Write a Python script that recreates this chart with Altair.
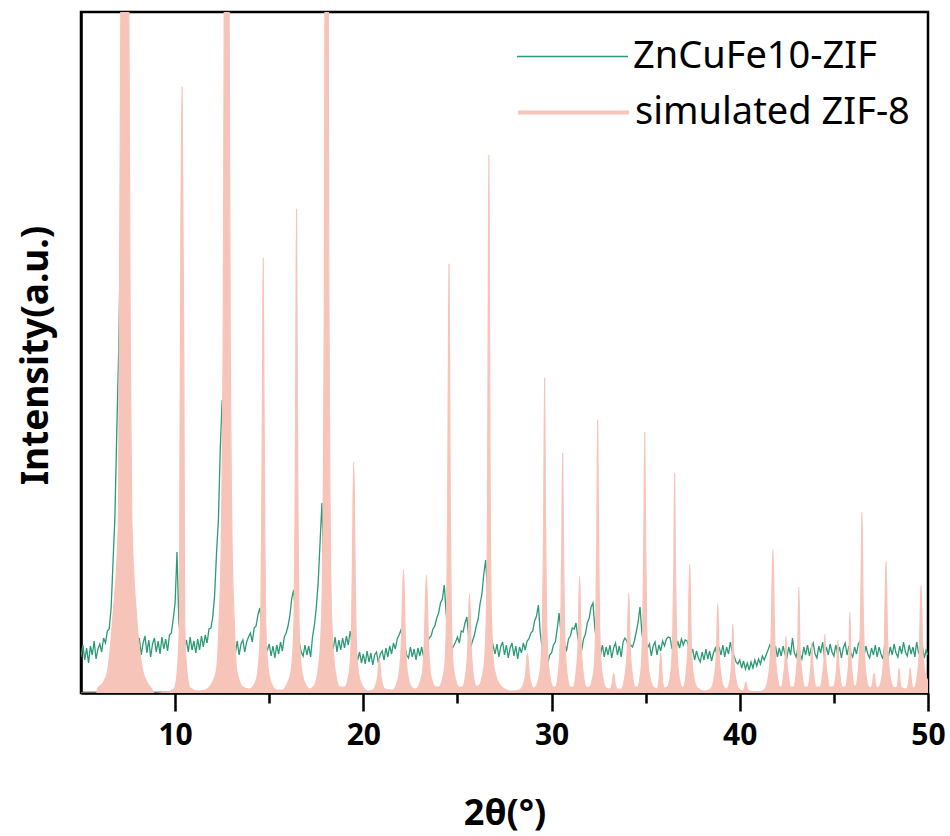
import altair as alt
import pandas as pd

series_names = ["ZnCuFe10-ZIF", "simulated ZIF-8"]
series_colors = ["#2A9B76", "#F7C4BA"]
x_tick_values = [10, 15, 20, 25, 30, 35, 40, 45, 50]

# experimental pattern, 2-theta from 5.0 to 50.0 in 0.1 degree steps (one row per degree)
exp_start = 5.0
exp_step = 0.1
exp_intensity = [
    36, 48, 33, 45, 30, 47, 38, 52, 34, 44,        # 5
    49, 41, 55, 50, 62, 64, 85, 130, 175, 260,     # 6
    340, 456, 320, 180, 110, 80, 65, 56, 52, 48,   # 7
    44, 55, 38, 50, 57, 40, 53, 36, 49, 55,        # 8
    41, 52, 39, 56, 44, 54, 42, 58, 60, 74,        # 9
    90, 141, 70, 56, 52, 44, 53, 41, 56, 43,       # 10
    52, 40, 54, 43, 57, 46, 58, 50, 64, 65,        # 11
    76, 98, 140, 173, 245, 293, 200, 120, 80, 60,  # 12
    54, 44, 40, 52, 38, 49, 53, 41, 51, 56,        # 13
    60, 51, 65, 67, 78, 85, 70, 55, 48, 43,        # 14
    49, 37, 47, 35, 48, 39, 51, 42, 56, 60,        # 15
    67, 78, 95, 103, 80, 60, 50, 41, 37, 48,       # 16
    38, 47, 36, 56, 68, 85, 110, 150, 190, 120,    # 17
    90, 70, 58, 52, 44, 56, 41, 53, 43, 55,        # 18
    45, 57, 48, 62, 50, 45, 40, 33, 41, 30,        # 19
    39, 29, 42, 31, 40, 28, 38, 41, 30, 39,        # 20
    42, 33, 45, 36, 47, 39, 50, 44, 54, 58,        # 21
    63, 55, 48, 38, 35, 46, 36, 44, 33, 45,        # 22
    37, 46, 36, 47, 50, 55, 57, 64, 67, 75,        # 23
    80, 90, 94, 108, 80, 60, 50, 44, 47, 51,       # 24
    56, 50, 62, 61, 70, 76, 55, 46, 52, 58,        # 25
    67, 74, 89, 99, 119, 133, 100, 70, 55, 47,     # 26
    39, 49, 36, 46, 51, 38, 48, 35, 45, 50,        # 27
    37, 47, 34, 46, 40, 50, 43, 52, 54, 60,        # 28
    62, 72, 77, 88, 60, 45, 40, 38, 30, 38,        # 29
    40, 48, 51, 64, 80, 60, 50, 48, 43, 54,        # 30
    57, 65, 64, 70, 55, 45, 43, 54, 59, 70,        # 31
    75, 86, 90, 65, 50, 46, 38, 48, 36, 46,        # 32
    38, 48, 35, 45, 50, 38, 47, 36, 51, 55,        # 33
    52, 45, 48, 46, 52, 61, 71, 86, 60, 48,        # 34
    43, 45, 49, 37, 47, 51, 38, 48, 42, 52,        # 35
    47, 54, 56, 55, 44, 50, 42, 52, 45, 54,        # 36
    48, 53, 52, 45, 38, 44, 33, 42, 35, 31,        # 37
    41, 33, 44, 34, 42, 32, 40, 45, 37, 46,        # 38
    38, 48, 36, 46, 39, 51, 41, 37, 31, 29,        # 39
    33, 25, 32, 24, 30, 23, 31, 25, 33, 27,        # 40
    34, 29, 37, 33, 38, 43, 48, 44, 38, 47,        # 41
    36, 45, 37, 47, 39, 35, 46, 38, 55, 40,        # 42
    36, 47, 39, 34, 46, 38, 48, 37, 45, 50,        # 43
    39, 35, 47, 40, 51, 36, 46, 38, 49, 41,        # 44
    37, 48, 39, 46, 35, 45, 50, 38, 47, 40,        # 45
    36, 46, 39, 49, 52, 41, 37, 47, 39, 35,        # 46
    45, 38, 48, 36, 46, 39, 34, 47, 40, 37,        # 47
    46, 38, 49, 40, 36, 47, 39, 51, 41, 37,        # 48
    48, 39, 46, 36, 51, 40, 38, 47, 35, 43,        # 49
    38,                                            # 50
]

# simulated ZIF-8 pattern: (2-theta, intensity) points read along each reflection
sim_points = [
    (5.0, 0), (5.85, 0), (5.87, 4), (6.2, 11), (6.42, 23), (6.68, 73), (6.99, 173), (7.03, 343),
    (7.12, 700), (7.33, 2000), (7.54, 700), (7.62, 343), (7.7, 173), (7.97, 73), (8.27, 23),
    (8.5, 11), (8.75, 4), (8.9, 0),
    (9.6, 1), (9.95, 4), (10.12, 23), (10.23, 73), (10.25, 173), (10.28, 343), (10.37, 606),
    (10.46, 343), (10.49, 173), (10.51, 73), (10.62, 23), (10.8, 5), (11.2, 2),
    (11.6, 3), (11.9, 8), (12.2, 23), (12.34, 73), (12.47, 173), (12.55, 343), (12.61, 681), (12.74, 2000),
    (12.87, 681), (12.93, 343), (13.01, 173), (13.14, 73), (13.27, 23), (13.6, 6),
    (13.95, 4), (14.25, 10), (14.4, 23), (14.55, 73), (14.6, 173), (14.64, 300), (14.68, 435), (14.72, 300),
    (14.76, 173), (14.81, 73), (14.95, 23), (15.15, 8), (15.4, 3),
    (15.7, 3), (15.95, 9), (16.17, 23), (16.32, 73), (16.37, 173), (16.41, 320), (16.45, 484), (16.49, 320),
    (16.53, 173), (16.58, 73), (16.72, 23), (16.95, 8), (17.15, 4),
    (17.35, 6), (17.6, 23), (17.78, 73), (17.86, 173), (17.93, 400), (17.96, 681), (18.05, 2000),
    (18.14, 681), (18.17, 400), (18.24, 173), (18.32, 73), (18.5, 23), (18.75, 6),
    (19.0, 6), (19.27, 23), (19.38, 73), (19.43, 150), (19.49, 231), (19.55, 150), (19.6, 73),
    (19.72, 23), (19.95, 7), (20.25, 2),
    (20.5, 3), (20.75, 15), (20.85, 35), (20.95, 15), (21.15, 4),
    (21.55, 3), (21.85, 14), (22.02, 50), (22.13, 124), (22.24, 50), (22.36, 18), (22.6, 5),
    (22.8, 4), (23.12, 18), (23.24, 50), (23.35, 118), (23.46, 50), (23.58, 18), (23.85, 6),
    (24.0, 6), (24.3, 23), (24.42, 73), (24.48, 180), (24.51, 300), (24.55, 429), (24.59, 300),
    (24.62, 180), (24.68, 73), (24.8, 23), (25.1, 6),
    (25.25, 6), (25.45, 20), (25.55, 45), (25.64, 99), (25.73, 45), (25.83, 20), (26.0, 7),
    (26.1, 7), (26.4, 25), (26.53, 73), (26.6, 200), (26.63, 350), (26.67, 538), (26.71, 350),
    (26.74, 200), (26.81, 73), (26.95, 25), (27.3, 7), (27.8, 2),
    (28.3, 3), (28.6, 15), (28.72, 40), (28.84, 15), (29.05, 5),
    (29.15, 6), (29.4, 23), (29.52, 73), (29.58, 170), (29.63, 315), (29.68, 170), (29.74, 73),
    (29.86, 23), (30.1, 6),
    (30.2, 6), (30.38, 23), (30.49, 70), (30.54, 140), (30.59, 240), (30.64, 140), (30.69, 70),
    (30.8, 23), (31.0, 6),
    (31.15, 6), (31.3, 20), (31.41, 50), (31.49, 117), (31.57, 50), (31.68, 20), (31.85, 6),
    (32.0, 6), (32.25, 23), (32.35, 73), (32.4, 150), (32.45, 273), (32.5, 150), (32.55, 73),
    (32.66, 23), (32.9, 5),
    (33.1, 4), (33.22, 9), (33.3, 20), (33.38, 9), (33.5, 4),
    (33.7, 4), (33.92, 20), (34.02, 45), (34.1, 100), (34.18, 45), (34.28, 20), (34.45, 6),
    (34.55, 6), (34.75, 23), (34.85, 73), (34.9, 150), (34.95, 261), (35.0, 150), (35.05, 73),
    (35.16, 23), (35.4, 6),
    (35.6, 4), (35.72, 15), (35.8, 40), (35.88, 15), (36.0, 5),
    (36.15, 6), (36.35, 23), (36.45, 70), (36.5, 130), (36.54, 220), (36.58, 130), (36.63, 70),
    (36.73, 23), (36.95, 6),
    (37.0, 6), (37.15, 20), (37.26, 55), (37.34, 129), (37.42, 55), (37.52, 20), (37.75, 5), (38.1, 2),
    (38.45, 4), (38.66, 18), (38.76, 40), (38.83, 90), (38.9, 40), (39.0, 18), (39.15, 6),
    (39.3, 4), (39.5, 15), (39.57, 32), (39.63, 69), (39.69, 32), (39.78, 15), (39.95, 4),
    (40.15, 2), (40.25, 5), (40.32, 11), (40.39, 5), (40.5, 2), (40.9, 1),
    (41.3, 3), (41.55, 20), (41.67, 60), (41.76, 144), (41.85, 60), (41.97, 20), (42.15, 6),
    (42.2, 6), (42.33, 18), (42.4, 32), (42.45, 57), (42.5, 32), (42.58, 18), (42.7, 6),
    (42.85, 6), (43.0, 20), (43.08, 45), (43.14, 106), (43.2, 45), (43.3, 20), (43.45, 6),
    (43.6, 6), (43.72, 15), (43.78, 28), (43.83, 50), (43.88, 28), (43.95, 15), (44.05, 6),
    (44.25, 6), (44.4, 18), (44.47, 32), (44.52, 59), (44.57, 32), (44.65, 18), (44.78, 6),
    (44.95, 6), (45.1, 16), (45.16, 30), (45.21, 53), (45.26, 30), (45.33, 16), (45.45, 6),
    (45.6, 6), (45.73, 18), (45.8, 38), (45.85, 81), (45.9, 38), (45.98, 18), (46.1, 7),
    (46.15, 7), (46.3, 23), (46.41, 70), (46.45, 120), (46.49, 181), (46.53, 120), (46.57, 70),
    (46.68, 23), (46.85, 6),
    (46.95, 5), (47.05, 9), (47.13, 20), (47.21, 9), (47.3, 5),
    (47.4, 6), (47.58, 20), (47.69, 55), (47.77, 132), (47.85, 55), (47.96, 20), (48.15, 6),
    (48.3, 5), (48.4, 10), (48.46, 25), (48.52, 10), (48.62, 5),
    (48.85, 4), (48.97, 10), (49.05, 25), (49.13, 10), (49.22, 5),
    (49.3, 6), (49.45, 20), (49.55, 48), (49.63, 108), (49.71, 48), (49.8, 25), (50.0, 12),
]

exp_df = pd.DataFrame({
    "two_theta": [round(exp_start + exp_step * i, 2) for i in range(len(exp_intensity))],
    "intensity": exp_intensity,
    "series": series_names[0],
})
sim_df = pd.DataFrame({
    "two_theta": [p[0] for p in sim_points],
    "intensity": [p[1] for p in sim_points],
    "series": series_names[1],
})

FONT = "Noto Sans"

x_enc = alt.X(
    "two_theta:Q",
    scale=alt.Scale(domain=[5, 50], nice=False, zero=False),
    axis=alt.Axis(
        values=x_tick_values,
        labelExpr="datum.value % 10 === 0 ? datum.label : ''",
        tickSize={"condition": {"test": "datum.value % 10 === 0", "value": 18}, "value": 10},
        tickWidth=2.5, tickColor="black",
        domainWidth=2.5, domainColor="black",
        labelFont=FONT, labelFontWeight="bold", labelFontSize=30, labelColor="black",
        labelPadding=9, labelFlush=False,
        title="2θ(°)", titleFont=FONT, titleFontWeight="bold", titleFontSize=36,
        titleColor="black", titleBaseline="alphabetic", titleAlign="center",
        titleX=423.5, titleY=131,
        grid=False,
    ),
)
y_enc = alt.Y(
    "intensity:Q",
    scale=alt.Scale(domain=[0, 681], nice=False),
    axis=alt.Axis(
        labels=False, ticks=False, grid=False,
        domainWidth=2.5, domainColor="black",
        title="Intensity(a.u.)", titleFont=FONT, titleFontWeight="bold", titleFontSize=37,
        titleColor="black", titleAngle=270, titleBaseline="alphabetic", titleAlign="center",
        titleX=-34, titleY=343,
    ),
)

def legend(y, stroke_w):
    return alt.Legend(
        title=None, orient="none", legendX=435, legendY=y,
        symbolType="stroke", symbolSize=12321, symbolStrokeWidth=stroke_w,
        labelFont=FONT, labelFontSize=38, labelColor="black", labelOffset=4,
        labelLimit=600, padding=0, offset=0,
    )

exp_line = alt.Chart(exp_df).mark_line(strokeWidth=1.3, clip=True).encode(
    x=x_enc, y=y_enc,
    color=alt.Color("series:N",
                    scale=alt.Scale(domain=[series_names[0]], range=[series_colors[0]]),
                    legend=legend(-12, 1.3)),
)

sim_area = alt.Chart(sim_df).mark_area(
    interpolate="monotone", clip=True, color=series_colors[1], opacity=1
).encode(x=x_enc, y=y_enc)

sim_line = alt.Chart(sim_df).mark_line(
    interpolate="monotone", clip=True, strokeWidth=1.2
).encode(
    x=x_enc, y=y_enc,
    color=alt.Color("series:N",
                    scale=alt.Scale(domain=[series_names[1]], range=[series_colors[1]]),
                    legend=legend(43, 4)),
)

chart = alt.layer(exp_line, sim_area, sim_line).resolve_scale(color="independent").properties(
    width=847, height=681,
    autosize=alt.AutoSizeParams(type="none"),
    padding={"left": 81, "top": 12, "right": 22, "bottom": 143},
    background="white",
).configure_view(stroke="black", strokeWidth=2.5)

chart.save("out.html", embed_options={"renderer": "svg", "actions": False})
